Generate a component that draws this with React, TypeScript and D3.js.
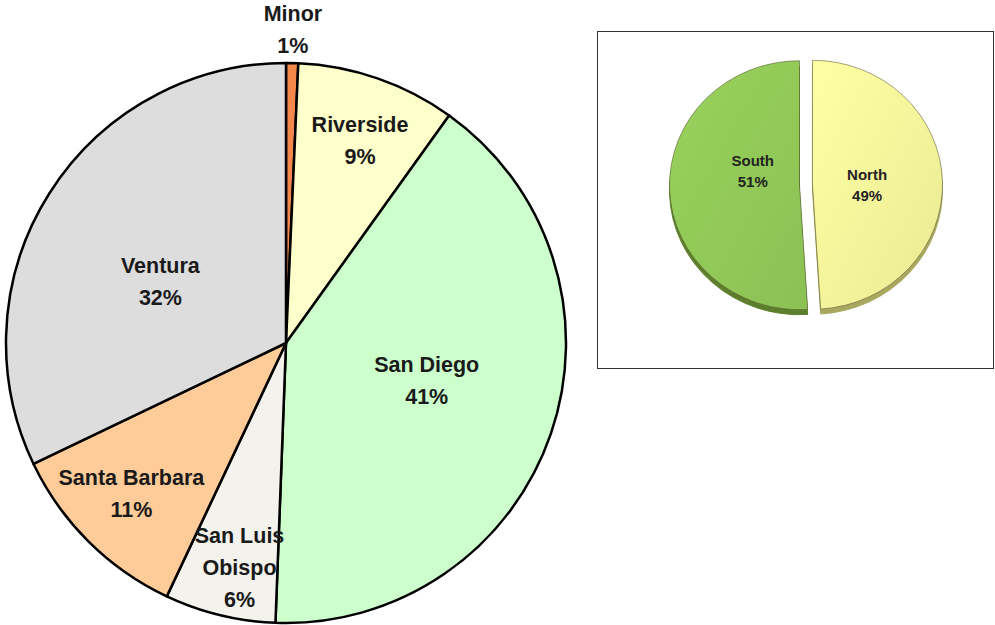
import React from "react";
import * as d3 from "d3";

// main pie: counties, clockwise from 12 o'clock
const counties = ["Minor", "Riverside", "San Diego", "San Luis Obispo", "Santa Barbara", "Ventura"];
const countyShare = [0.7, 9.2, 40.7, 6.4, 10.9, 32.1];
const countyLabel = [["Minor"], ["Riverside"], ["San Diego"], ["San Luis", "Obispo"], ["Santa Barbara"], ["Ventura"]];
const countyColor = ["#f4874b", "#ffffcc", "#ccffcc", "#f3f2ec", "#ffcc99", "#dddddd"];

// small pie: regions
const regions = ["North", "South"];
const regionShare = [49, 51];
const regionColor = ["#f4f49c", "#92c958"];
const regionDark = ["#a9a860", "#5d7f2c"];

const App = () => {
  const R = 280;
  const cx = 286;
  const cy = 343;
  const pie = d3.pie<number>().sort(null).value((d) => d);
  const arcs = pie(countyShare);
  const arc = d3.arc<d3.PieArcDatum<number>>().innerRadius(0).outerRadius(R);
  // label placement (fraction of radius, angle nudge in degrees) - excel-ish
  const labelR = [1.12, 0.77, 0.52, 0.82, 0.77, 0.5];
  const labelNudge = [0, 1, -4, -2, 1, -6];
  const lineH = 32;

  // small pie
  const rx = 130;
  const ry = 124.5;
  const scx = 806;
  const scy = 185;
  const explode = 6.5;
  const depth = 5;
  const sArcs = pie(regionShare);
  const sArc = d3.arc<d3.PieArcDatum<number>>().innerRadius(0).outerRadius(rx);
  const sLabelR = [0.47, 0.41];
  const sLabelDy = [2, -15];

  return (
    <svg
      width={995}
      height={625}
      style={{ position: "absolute", left: 0, top: 0, fontFamily: "Liberation Sans, Arial, sans-serif" }}
    >
      <defs>
        {regions.map((r, i) => (
          <linearGradient key={r} id={"g" + i} x1="0" y1="0" x2="1" y2="1">
            <stop offset="0%" stopColor={d3.color(regionColor[i])!.brighter(0.12).toString()} />
            <stop offset="100%" stopColor={d3.color(regionColor[i])!.darker(0.12).toString()} />
          </linearGradient>
        ))}
      </defs>
      <rect width={995} height={625} fill="#fff" />
      <g transform={`translate(${cx},${cy})`}>
        {arcs.map((a, i) => (
          <path key={counties[i]} d={arc(a)!} fill={countyColor[i]} stroke="#000" strokeWidth={2.5} strokeLinejoin="round" />
        ))}
        {arcs.map((a, i) => {
          const mid = (a.startAngle + a.endAngle) / 2 + (labelNudge[i] * Math.PI) / 180;
          const r = R * labelR[i];
          const x = Math.sin(mid) * r;
          const y = -Math.cos(mid) * r;
          const lines = [...countyLabel[i], Math.round(countyShare[i]) + "%"];
          const y0 = y - ((lines.length - 1) * lineH) / 2;
          return (
            <text key={counties[i]} textAnchor="middle" fontSize={21.5} fontWeight="bold" fill="#1a1a1a">
              {lines.map((l, j) => (
                <tspan key={j} x={x} y={y0 + j * lineH} dy="0.35em">
                  {l}
                </tspan>
              ))}
            </text>
          );
        })}
      </g>

      <rect x={597.5} y={31.5} width={396} height={337} fill="#fff" stroke="#333" strokeWidth={1} />
      {sArcs.map((a, i) => {
        const mid = (a.startAngle + a.endAngle) / 2;
        const ox = scx + Math.sin(mid) * explode;
        const oy = scy - Math.cos(mid) * explode;
        return (
          <g key={regions[i]}>
            <g transform={`translate(${ox},${oy + depth}) scale(1,${ry / rx})`}>
              <path d={sArc(a)!} fill={regionDark[i]} stroke={regionDark[i]} strokeWidth={1} />
            </g>
            <g transform={`translate(${ox},${oy}) scale(1,${ry / rx})`}>
              <path d={sArc(a)!} fill={`url(#g${i})`} stroke="#55552e" strokeWidth={0.8} strokeOpacity={0.7} />
            </g>
          </g>
        );
      })}
      {sArcs.map((a, i) => {
        const mid = (a.startAngle + a.endAngle) / 2;
        const r = rx * sLabelR[i];
        const x = scx + Math.sin(mid) * r;
        const y = scy - Math.cos(mid) * r * (ry / rx) + sLabelDy[i];
        return (
          <text key={regions[i]} textAnchor="middle" fontSize={15} fontWeight="bold" fill="#222">
            <tspan x={x} y={y - 10.5} dy="0.35em">{regions[i]}</tspan>
            <tspan x={x} y={y + 10.5} dy="0.35em">{regionShare[i] + "%"}</tspan>
          </text>
        );
      })}
    </svg>
  );
};

export default App;
